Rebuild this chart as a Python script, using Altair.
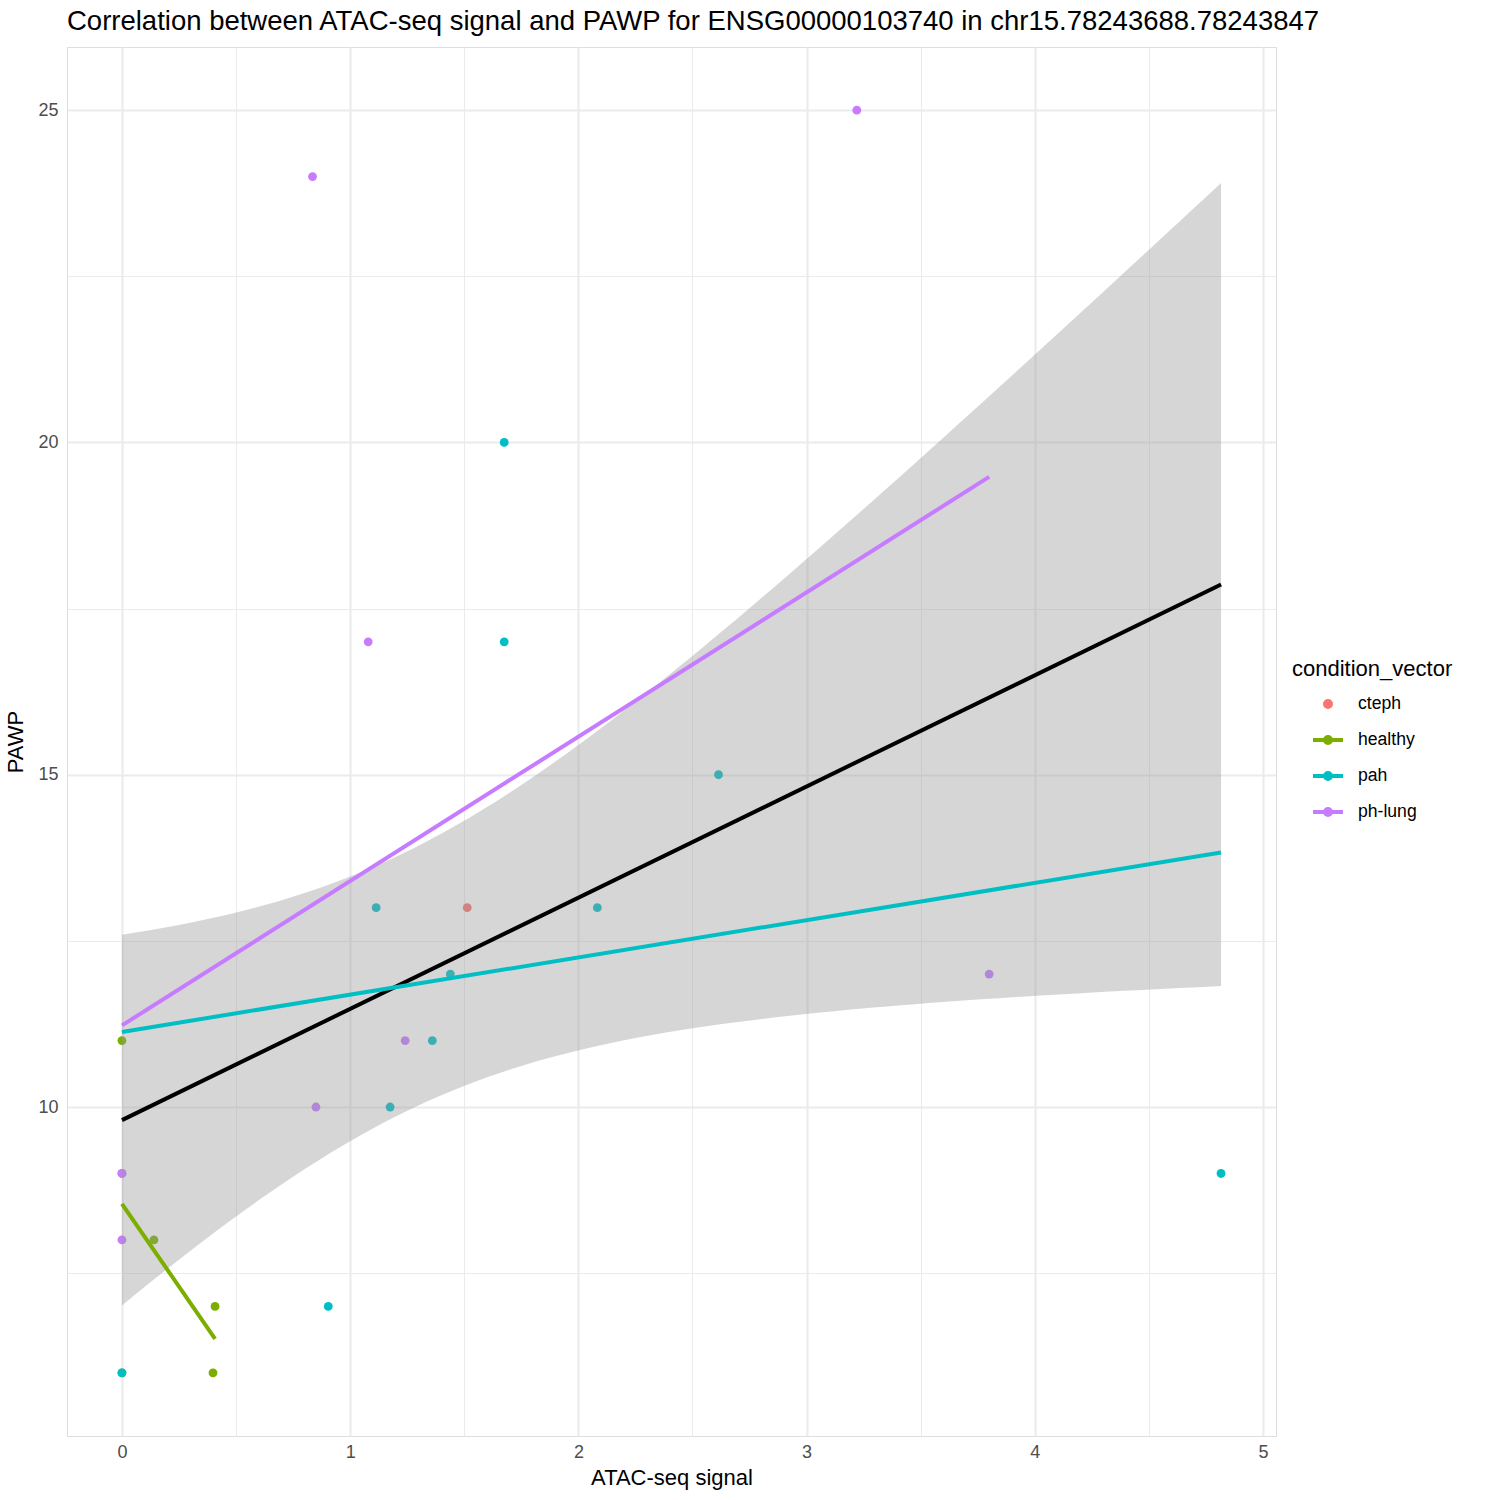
import altair as alt
import numpy as np
import pandas as pd

# ---- data ----
healthy_x = [0.0, 0.14, 0.408, 0.399, 0.0]
healthy_y = [11, 8, 7, 6, 6]
cteph_x = [1.513]
cteph_y = [13]
pah_x = [1.675, 1.675, 2.614, 1.114, 2.083, 1.439, 1.36, 1.175, 0.904, 0.0, 4.816]
pah_y = [20, 17, 15, 13, 13, 12, 11, 10, 7, 6, 9]
phlung_x = [0.835, 3.22, 1.079, 1.241, 0.85, 3.80, 0.0, 0.0, 0.0]
phlung_y = [24, 25, 17, 11, 10, 12, 9, 8, 9]

categories = ["cteph", "healthy", "pah", "ph-lung"]
palette = ["#F8766D", "#7CAE00", "#00BFC4", "#C77CFF"]
point_only = ["cteph"]
with_line = ["healthy", "pah", "ph-lung"]
line_palette = [palette[categories.index(c)] for c in with_line]

x_major = [0, 1, 2, 3, 4, 5]
x_minor = [0.5, 1.5, 2.5, 3.5, 4.5]
y_major = [10, 15, 20, 25]
y_minor = [7.5, 12.5, 17.5, 22.5]

TITLE = "Correlation between ATAC-seq signal and PAWP for ENSG00000103740 in chr15.78243688.78243847"
FONT = "Liberation Sans"

# ---- build table (drawing order as in the source) ----
rows = []
for name, xs, ys in [("healthy", healthy_x, healthy_y), ("cteph", cteph_x, cteph_y),
                     ("pah", pah_x, pah_y), ("ph-lung", phlung_x, phlung_y)]:
    for a, b in zip(xs, ys):
        rows.append({"x": a, "y": b, "condition": name})
df = pd.DataFrame(rows)

# ---- overall linear fit with 95% confidence band (like geom_smooth(method="lm")) ----
X = df["x"].to_numpy(float)
Y = df["y"].to_numpy(float)
n = len(X)
slope, intercept = np.polyfit(X, Y, 1)
resid = Y - (intercept + slope * X)
s = np.sqrt(np.sum(resid ** 2) / (n - 2))
sxx = np.sum((X - X.mean()) ** 2)
T975 = 2.0639  # Student t quantile, df = 24
grid_x = np.linspace(X.min(), X.max(), 80)
fit = intercept + slope * grid_x
se = s * np.sqrt(1.0 / n + (grid_x - X.mean()) ** 2 / sxx)
band = pd.DataFrame({"x": grid_x, "lo": fit - T975 * se, "hi": fit + T975 * se})

xr = X.max() - X.min()
x_dom = [X.min() - 0.05 * xr, X.max() + 0.05 * xr]
ylo = min(Y.min(), band["lo"].min())
yhi = max(Y.max(), band["hi"].max())
yr = yhi - ylo
y_dom = [ylo - 0.05 * yr, yhi + 0.05 * yr]

xscale = alt.Scale(domain=x_dom, nice=False, zero=False)
yscale = alt.Scale(domain=y_dom, nice=False, zero=False)
cscale = alt.Scale(domain=categories, range=palette)
sscale = alt.Scale(domain=with_line, range=line_palette)

W, H = 1209, 1389
PAD = {"left": 67, "top": 47, "right": 1500 - 67 - W, "bottom": 1500 - 47 - H}

GRID = "#EBEBEB"

major_x_axis = alt.Axis(values=x_major, orient="bottom", grid=True, gridColor=GRID, gridWidth=2.1,
                        domain=False, ticks=False, labelFontSize=18, labelColor="#4D4D4D",
                        labelFont=FONT, labelPadding=7, title="ATAC-seq signal", titleFont=FONT,
                        titleFontSize=22, titleFontWeight="normal", titleColor="black", titlePadding=6)
major_y_axis = alt.Axis(values=y_major, orient="left", grid=True, gridColor=GRID, gridWidth=2.1,
                        domain=False, ticks=False, labelFontSize=18, labelColor="#4D4D4D",
                        labelFont=FONT, labelPadding=9, title="PAWP", titleFont=FONT,
                        titleFontSize=22, titleFontWeight="normal", titleColor="black", titlePadding=10)
minor_x_axis = alt.Axis(values=x_minor, orient="top", grid=True, gridColor=GRID, gridWidth=1.07,
                        domain=False, ticks=False, labels=False, title=None)
minor_y_axis = alt.Axis(values=y_minor, orient="right", grid=True, gridColor=GRID, gridWidth=1.07,
                        domain=False, ticks=False, labels=False, title=None)

# legend symbols: path units are scaled by sqrt(symbolSize)/2 = 15 px
PATH_DOT = "M-0.33,0A0.33,0.33,0,1,1,0.33,0A0.33,0.33,0,1,1,-0.33,0Z"
PATH_LINE = ("M-1,0H1"
             "M-0.12,0A0.12,0.12,0,1,1,0.12,0A0.12,0.12,0,1,1,-0.12,0"
             "M-0.2,0A0.2,0.2,0,1,1,0.2,0A0.2,0.2,0,1,1,-0.2,0")

legend_pts = alt.Legend(
    title="condition_vector", orient="none", legendX=1225, legendY=612, values=point_only,
    titleFont=FONT, titleFontSize=22, titleFontWeight="normal", titleColor="black", titlePadding=8,
    labelFont=FONT, labelFontSize=17.6, labelColor="black", labelOffset=15,
    symbolSize=900, symbolOffset=21, symbolType=PATH_DOT, symbolOpacity=1, symbolStrokeWidth=0,
)
legend_lines = alt.Legend(
    title=None, orient="none", legendX=1225, legendY=676, rowPadding=8,
    labelFont=FONT, labelFontSize=17.6, labelColor="black", labelOffset=13,
    symbolSize=900, symbolOffset=19, symbolType=PATH_LINE, symbolStrokeWidth=4, symbolOpacity=1,
)

minor = alt.Chart(df).mark_point(opacity=0).encode(
    x=alt.X("x:Q", scale=xscale, axis=minor_x_axis),
    y=alt.Y("y:Q", scale=yscale, axis=minor_y_axis),
)

points = alt.Chart(df).mark_circle(size=78, opacity=1).encode(
    x=alt.X("x:Q", scale=xscale, axis=major_x_axis),
    y=alt.Y("y:Q", scale=yscale, axis=major_y_axis),
    color=alt.Color("condition:N", scale=cscale, legend=legend_pts),
)

ribbon = alt.Chart(band).mark_area(color="#999999", opacity=0.4).encode(
    x=alt.X("x:Q", scale=xscale, axis=None),
    y=alt.Y("lo:Q", scale=yscale, axis=None),
    y2="hi:Q",
)

overall = alt.Chart(df).transform_regression("x", "y").mark_line(color="black", strokeWidth=4).encode(
    x=alt.X("x:Q", scale=xscale, axis=None),
    y=alt.Y("y:Q", scale=yscale, axis=None),
)

groups = alt.Chart(df).transform_filter(alt.datum.condition != "cteph").transform_regression(
    "x", "y", groupby=["condition"]
).mark_line(strokeWidth=4).encode(
    x=alt.X("x:Q", scale=xscale, axis=None),
    y=alt.Y("y:Q", scale=yscale, axis=None),
    stroke=alt.Stroke("condition:N", scale=sscale, legend=legend_lines),
)

chart = alt.layer(minor, points, ribbon, overall, groups).resolve_axis(
    x="independent", y="independent"
).properties(
    width=W, height=H,
    title=alt.TitleParams(TITLE, anchor="start", frame="group", font=FONT, fontSize=27.5,
                          fontWeight="normal", color="black", offset=12),
    autosize=alt.AutoSizeParams(type="none"),
    padding=PAD,
).configure_view(stroke=None).configure(background="white")

chart.save("out.html", embed_options={"renderer": "svg", "actions": False})
